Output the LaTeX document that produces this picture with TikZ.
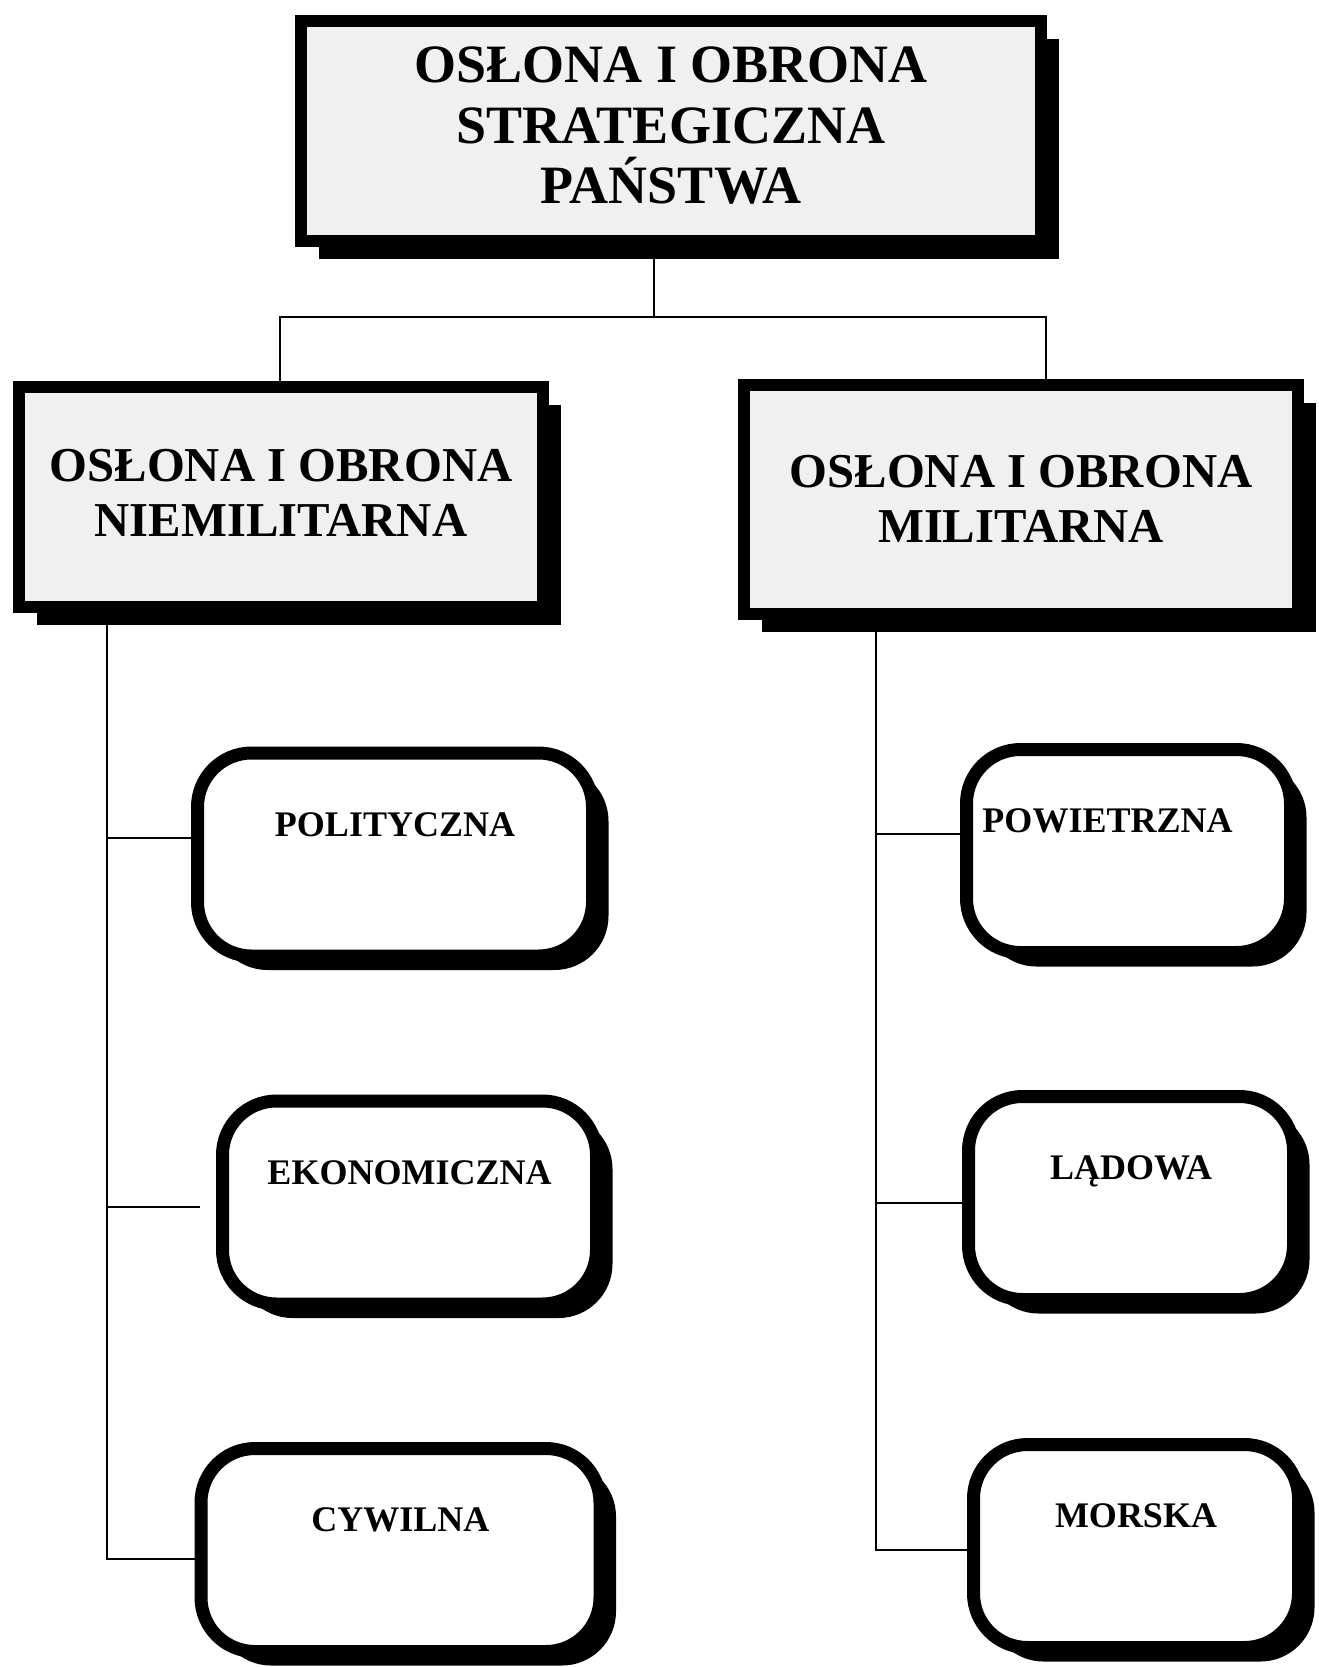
\documentclass[tikz,border=0pt]{standalone}
\usepackage{fontspec}
\setmainfont{Liberation Serif}
\usetikzlibrary{shadows}

\begin{document}
\begin{tikzpicture}[x=1pt,y=-1pt,
  framebox/.style={draw,line width=12pt,fill=gray!12,align=center,inner sep=0pt,
    drop shadow={shadow xshift=18pt,shadow yshift=-18pt,fill=black,opacity=1}},
  rootbox/.style={framebox,minimum width=740pt,minimum height=220pt,
    font=\bfseries\fontsize{54}{60.5}\selectfont},
  sidebox/.style={framebox,font=\bfseries\fontsize{48.7}{55.5}\selectfont},
  leafbox/.style={draw,line width=13pt,fill=white,rounded corners=54pt,inner sep=0pt,
    minimum height=203pt,text height=24pt,text depth=61pt,
    font=\bfseries\fontsize{36}{40}\selectfont,
    drop shadow={shadow xshift=16pt,shadow yshift=-14pt,fill=black,opacity=1}},
  link/.style={line width=2pt}]
  \useasboundingbox (0,0) rectangle (1319,1667);

  %top level
  \node[rootbox] (root) at (671,131) {OSŁONA I OBRONA\\STRATEGICZNA\\PAŃSTWA\rule[-11pt]{0pt}{11pt}};

  %second level
  \node[sidebox,minimum width=524.5pt,minimum height=220.5pt] (nonmil) at (281,497) {OSŁONA I OBRONA\\NIEMILITARNA\rule[-8pt]{0pt}{8pt}};
  \node[sidebox,minimum width=554.5pt,minimum height=229pt] (mil) at (1021,499) {OSŁONA I OBRONA\\MILITARNA};

  %non-military branch
  \node[leafbox,minimum width=395pt] (pol) at (395,854.5) {POLITYCZNA};
  \node[leafbox,minimum width=374pt] (eko) at (409.5,1202.5) {EKONOMICZNA};
  \node[leafbox,minimum width=399pt] (cyw) at (400.5,1550) {CYWILNA};

  %military branch
  \node[leafbox,minimum width=324pt] (pow) at (1128.5,851) {POWIETRZNA\hspace*{42pt}};
  \node[leafbox,minimum width=325pt] (lad) at (1131,1198) {LĄDOWA};
  \node[leafbox,minimum width=325pt] (mor) at (1136,1546) {MORSKA};

  %connectors
  \coordinate (split) at (654,317);
  \coordinate (lsplit) at (280,317);
  \coordinate (rsplit) at (1046,317);
  \draw[link] (root.south -| split) -- (split);
  \draw[link] (lsplit |- nonmil.north) -- (lsplit) -- (rsplit) -- (rsplit |- mil.north);

  \coordinate (lspine) at (107,1559);
  \coordinate (lpol) at (107,838);
  \coordinate (leko) at (107,1207);
  \draw[link] (lspine |- nonmil.south) -- (lspine) -- (cyw.west |- lspine);
  \draw[link] (lpol) -- (pol.west |- lpol);
  \draw[link] (leko) -- ([xshift=-16pt]eko.west |- leko);

  \coordinate (rspine) at (876,1550);
  \coordinate (rpow) at (876,834);
  \coordinate (rlad) at (876,1203);
  \draw[link] (rspine |- mil.south) -- (rspine) -- (mor.west |- rspine);
  \draw[link] (rpow) -- (pow.west |- rpow);
  \draw[link] (rlad) -- (lad.west |- rlad);
\end{tikzpicture}
\end{document}
